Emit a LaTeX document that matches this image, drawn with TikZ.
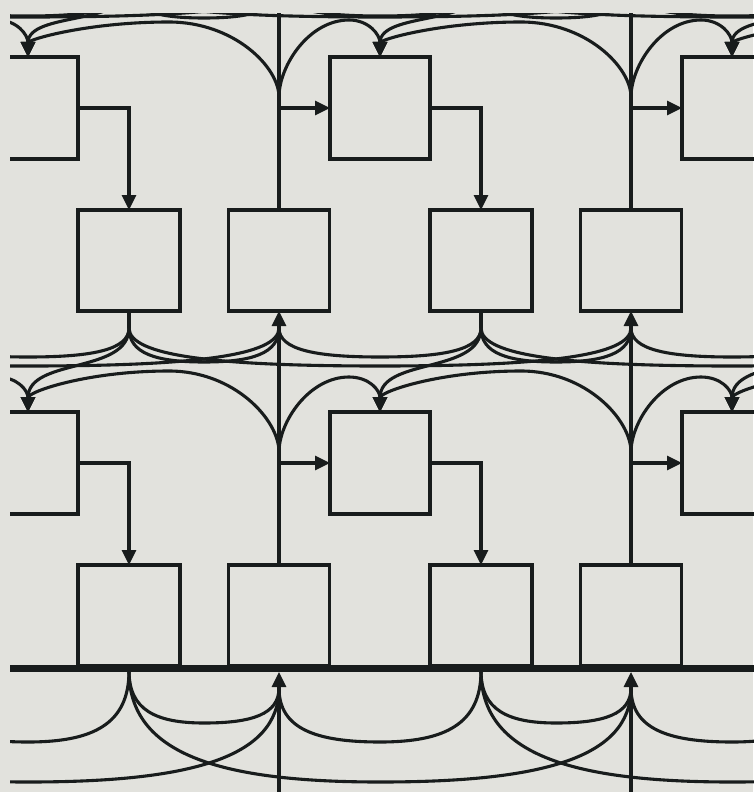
\documentclass[tikz,border=0pt]{standalone}
\usetikzlibrary{arrows.meta}
\definecolor{paper}{RGB}{226,226,221}
\definecolor{ink}{RGB}{24,28,28}
% U-shaped connector: start name, end name, x1, y1, x2, y2, level
\newcommand\Ucon[7]{%
  \pgfmathsetmacro\uXm{(#3+#5)/2}%
  \pgfmathsetmacro\uCa{#3+0.18*(#5-#3)}%
  \pgfmathsetmacro\uCb{#5-0.18*(#5-#3)}%
  \pgfmathsetmacro\uCya{#4+0.75*(#7-#4)}%
  \pgfmathsetmacro\uCyb{#6+0.75*(#7-#6)}%
  \draw[conn] (#1) .. controls (#3,\uCya) and (\uCa,#7) .. (\uXm,#7) .. controls (\uCb,#7) and (#5,\uCyb) .. (#2);%
}
\begin{document}
\begin{tikzpicture}[x=1pt,y=-1pt,
  box/.style={draw=ink,line width=3.6pt,minimum width=100pt,minimum height=102pt,inner sep=0pt,outer sep=0pt},
  conn/.style={draw=ink,line width=3.1pt},
  arr/.style={conn,-{Triangle[length=15pt,width=14pt]}},
  busline/.style={draw=ink,line width=7pt}]
\fill[paper] (0,0) rectangle (753,792);
\useasboundingbox (0,0) rectangle (753,792);
\begin{scope}
\clip (10,14) rectangle (760,800);
% ---- nodes and points
\foreach \i in {0,...,4}{
  \pgfmathsetmacro\xa{28+352*(\i-1)}
  \pgfmathsetmacro\xb{129+352*(\i-1)}
  \pgfmathsetmacro\xc{279+352*(\i-1)}
  \foreach \m in {0,1}{
    \pgfmathsetmacro\yo{355*\m}
    \node[box] (A\m-\i) at (\xa,108+\yo) {};
    \node[box,minimum width=102pt,minimum height=101pt] (B\m-\i) at (\xb,260.5+\yo) {};
    \node[box,minimum width=101pt,minimum height=101pt] (D\m-\i) at (\xc,260.5+\yo) {};
  }
  \coordinate (top-\i) at (\xc,0);
  \coordinate (bot-\i) at (\xc,800);
  \coordinate (bar-\i) at (\xc,672);
  \coordinate (Sa-\i) at (\xb,-13); \coordinate (Ca-\i) at (\xc,-13); \coordinate (La-\i) at (\xc,97);
  \coordinate (Sb-\i) at (\xb,328); \coordinate (Cb-\i) at (\xc,328); \coordinate (Lb-\i) at (\xc,452);
  \coordinate (Sc-\i) at (\xb,671); \coordinate (Cc-\i) at (\xc,688);
}
\coordinate (barL) at (0,668);
\coordinate (barR) at (760,668);
\draw[busline] (barL) -- (barR);
% ---- connectors
\foreach \i in {0,...,3}{
  \pgfmathtruncatemacro\j{\i+1}
  \pgfmathsetmacro\xa{28+352*(\i-1)}
  \pgfmathsetmacro\xb{129+352*(\i-1)}
  \pgfmathsetmacro\xc{279+352*(\i-1)}
  \pgfmathsetmacro\xbj{129+352*\i}
  \pgfmathsetmacro\xcj{279+352*\i}
  % inside stripes
  \foreach \m in {0,1}{
    \draw[arr] (A\m-\i.east) -| (B\m-\i.north);
    \draw[arr] (D\m-\i.north |- A\m-\j.west) -- (A\m-\j.west);
  }
  \draw[conn] (D0-\i.north) -- (top-\i);
  \draw[arr] (D1-\i.north) -- (D0-\i.south);
  \draw[arr] (bot-\i) -- (bar-\i);
  \draw[conn] (B0-\i.south) -- (Sb-\i);
  % ---- top band
  \Ucon{Sa-\i}{Ca-\i}{\xb}{-13}{\xc}{-13}{18}
  \Ucon{Sa-\j}{Ca-\i}{\xbj}{-13}{\xc}{-13}{16}
  \Ucon{Sa-\i}{Ca-\j}{\xb}{-13}{\xcj}{-13}{17}
  \draw[arr] (Sa-\i) .. controls (\xb,25.5) and (\xa,11.5) .. (A0-\i.north);
  \draw[arr] (La-\i) .. controls (\xc,67) and (\xc-45,22) .. (\xc-110,22) .. controls (\xa+60,22) and (\xa,39.5) .. (A0-\i.north);
  \draw[arr] (La-\i) .. controls (\xc,65.8) and (\xc+30,20) .. (\xc+70,20) .. controls (\xc+90,20) and (\xc+101,34.8) .. (A0-\j.north);
  % ---- middle band
  \Ucon{Sb-\i}{Cb-\i}{\xb}{328}{\xc}{328}{362}
  \Ucon{Sb-\j}{Cb-\i}{\xbj}{328}{\xc}{328}{357}
  \Ucon{Sb-\i}{Cb-\j}{\xb}{328}{\xcj}{328}{366}
  \draw[arr] (Sb-\i) .. controls (\xb,374.2) and (\xa,357.4) .. (A1-\i.north);
  \draw[arr] (Lb-\i) .. controls (\xc,419.6) and (\xc-45,371) .. (\xc-110,371) .. controls (\xa+60,371) and (\xa,391.5) .. (A1-\i.north);
  \draw[arr] (Lb-\i) .. controls (\xc,422) and (\xc+30,377) .. (\xc+70,377) .. controls (\xc+90,377) and (\xc+101,390) .. (A1-\j.north);
  % ---- bottom band
  \Ucon{Sc-\i}{Cc-\i}{\xb}{671}{\xc}{688}{723}
  \Ucon{Sc-\j}{Cc-\i}{\xbj}{671}{\xc}{688}{742}
  \Ucon{Sc-\i}{Cc-\j}{\xb}{671}{\xcj}{688}{782}
}
\end{scope}
\end{tikzpicture}
\end{document}
